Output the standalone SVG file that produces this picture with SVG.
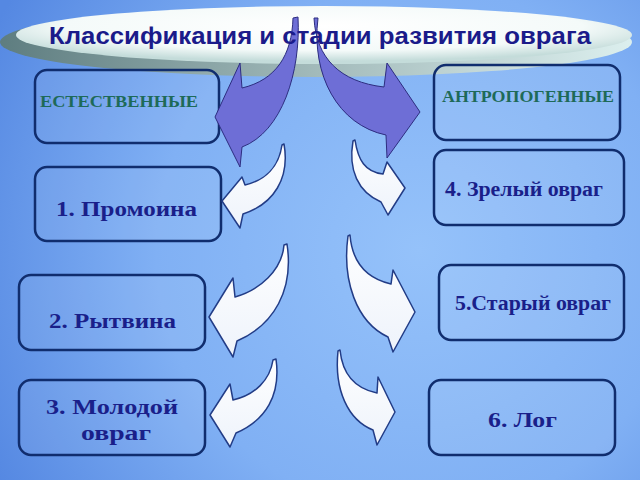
<svg xmlns="http://www.w3.org/2000/svg" width="640" height="480" viewBox="0 0 640 480">
<defs>
<radialGradient id="bg" cx="420" cy="250" r="480" gradientUnits="userSpaceOnUse">
<stop offset="0" stop-color="#95c2fa"/>
<stop offset="0.55" stop-color="#80b0f4"/>
<stop offset="1" stop-color="#5588e2"/>
</radialGradient>
<linearGradient id="shadow" x1="0" y1="0" x2="1" y2="0">
<stop offset="0" stop-color="#5e7d80"/>
<stop offset="0.5" stop-color="#a2baba"/>
<stop offset="1" stop-color="#dcefee"/>
</linearGradient>
<radialGradient id="ell" cx="0.5" cy="0.35" r="0.6">
<stop offset="0" stop-color="#ffffff"/>
<stop offset="0.7" stop-color="#f4faf9"/>
<stop offset="1" stop-color="#c4dcda"/>
</radialGradient>
<linearGradient id="wa" x1="0" y1="0" x2="0" y2="1">
<stop offset="0" stop-color="#ffffff"/>
<stop offset="1" stop-color="#eef3fb"/>
</linearGradient>
</defs>
<style>
.box{fill:#ffffff;fill-opacity:0.07;stroke:#102d6e;stroke-width:2.5}
.t{font-family:"Liberation Serif","Times New Roman",serif;font-weight:bold;font-size:20px;fill:#1a1f8a}
.g{font-family:"Liberation Serif","Times New Roman",serif;font-weight:bold;font-size:16px;fill:#1e6a58}
.wa{fill:url(#wa);stroke:#223c86;stroke-width:1.5;stroke-linejoin:round}
.pa{fill:#6e6ed6;stroke:#2d2d80;stroke-width:1;stroke-linejoin:round}
</style>
<rect width="640" height="480" fill="url(#bg)"/>
<g id="title">
<ellipse cx="316" cy="42" rx="316" ry="35" fill="url(#shadow)"/>
<ellipse cx="324" cy="35" rx="308" ry="29" fill="url(#ell)"/>
</g>
<g id="n-natural"><rect class="box" x="35" y="70" width="184" height="73" rx="12"/><text class="g" x="40" y="107" textLength="158" lengthAdjust="spacingAndGlyphs">ЕСТЕСТВЕННЫЕ</text></g>
<g id="n-anthro"><rect class="box" x="434" y="65" width="186" height="75" rx="12"/><text class="g" x="442" y="102" textLength="172" lengthAdjust="spacingAndGlyphs">АНТРОПОГЕННЫЕ</text></g>
<g id="n1"><rect class="box" x="35" y="167" width="186" height="74" rx="12"/><text class="t" x="56" y="216" textLength="141" lengthAdjust="spacingAndGlyphs">1. Промоина</text></g>
<g id="n2"><rect class="box" x="19" y="275" width="186" height="75" rx="12"/><text class="t" x="49" y="328" textLength="127" lengthAdjust="spacingAndGlyphs">2. Рытвина</text></g>
<g id="n3"><rect class="box" x="19" y="380" width="186" height="75" rx="12"/><text class="t" x="46" y="414" textLength="132" lengthAdjust="spacingAndGlyphs">3. Молодой</text><text class="t" x="81" y="440" textLength="70" lengthAdjust="spacingAndGlyphs">овраг</text></g>
<g id="n4"><rect class="box" x="434" y="150" width="190" height="75" rx="12"/><text class="t" x="445" y="196" font-size="18" textLength="158" lengthAdjust="spacingAndGlyphs">4. Зрелый овраг</text></g>
<g id="n5"><rect class="box" x="439" y="265" width="185" height="75" rx="12"/><text class="t" x="455" y="310" font-size="18" textLength="156" lengthAdjust="spacingAndGlyphs">5.Старый овраг</text></g>
<g id="n6"><rect class="box" x="429" y="380" width="186" height="75" rx="12"/><text class="t" x="488" y="427" textLength="69" lengthAdjust="spacingAndGlyphs">6. Лог</text></g>
<g id="connectors">
<path class="pa" d="M293,18 C292,55 276,80 242,88 L240,63 L215,117 L240,167 L242,147 C282,132 301,72 298,17 Z"/>
<path class="pa" d="M314,18 C316,58 340,82 384,87 L387,63 L420,112 L387,158 L386,135 C338,125 311,75 318,18 Z"/>
<path class="wa" d="M282,145 C279,166 266,180 245,185 L242,177 L222,201 L240,228 L243,214 C274,204 290,178 284,144 Z"/>
<path class="wa" d="M284,245 C282,270 260,290 235,297 L233,278 L209,317 L233,357 L237,341 C274,325 294,290 287,244 Z"/>
<path class="wa" d="M273,360 C270,380 255,395 233,400 L230,384 L210,415 L230,447 L236,433 C266,420 281,395 276,359 Z"/>
<path class="wa" d="M355,140 C358,160 365,172 383,174 L387,162 L405,188 L388,215 L381,202 C358,192 348,170 353,141 Z"/>
<path class="wa" d="M350,235 C352,260 365,278 391,284 L393,270 L415,312 L393,352 L388,337 C356,322 342,280 348,236 Z"/>
<path class="wa" d="M340,350 C342,370 352,388 377,393 L378,377 L395,412 L377,445 L373,430 C348,420 334,390 338,351 Z"/>
</g>
<text x="320" y="44" text-anchor="middle" font-family="'Liberation Sans',Arial,sans-serif" font-weight="bold" font-size="23" fill="#1b1b8a" textLength="542" lengthAdjust="spacingAndGlyphs">Классификация и стадии развития оврага</text>
</svg>
